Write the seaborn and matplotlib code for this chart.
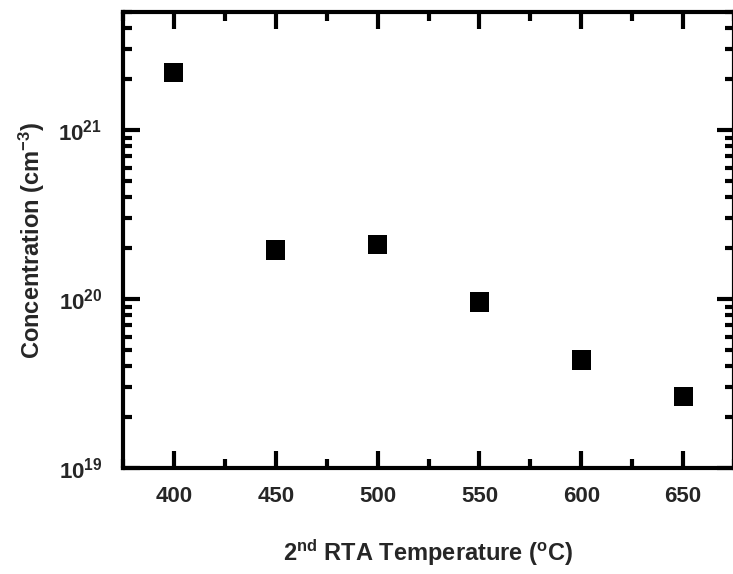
import matplotlib
matplotlib.use("Agg")
import math
import matplotlib.pyplot as plt
import matplotlib.ticker as mticker
import seaborn as sns
import pandas as pd

temperature = [400, 450, 500, 550, 600, 650]
concentration = [2.2e21, 1.95e20, 2.11e20, 9.6e19, 4.36e19, 2.65e19]

sns.set_style("ticks")
plt.rcParams['font.family'] = ['Liberation Sans', 'DejaVu Sans']
plt.rcParams['mathtext.fontset'] = 'custom'
plt.rcParams['mathtext.rm'] = 'Liberation Sans:bold'
plt.rcParams['mathtext.it'] = 'Liberation Sans:bold'
plt.rcParams['mathtext.bf'] = 'Liberation Sans:bold'

df = pd.DataFrame({"T": temperature, "C": concentration})

fig = plt.figure(figsize=(7.33, 5.74), dpi=100)
W, H = 733, 574
ax = fig.add_axes([123 / W, (H - 468) / H, (734 - 123) / W, (468 - 12) / H])

sns.scatterplot(data=df, x="T", y="C", marker="s", s=190, color="black",
                edgecolor="none", linewidth=0, ax=ax, legend=False)

ax.set_yscale("log")
ax.set_xlim(375, 675)
ax.set_ylim(1e19, 5e21)

ax.xaxis.set_major_locator(mticker.MultipleLocator(50))
ax.xaxis.set_minor_locator(mticker.MultipleLocator(25))
ax.yaxis.set_major_locator(mticker.LogLocator(base=10, numticks=10))
ax.yaxis.set_minor_locator(mticker.LogLocator(base=10, subs=range(2, 10), numticks=20))
ax.yaxis.set_minor_formatter(mticker.NullFormatter())

def yfmt(v, pos):
    e = int(round(math.log10(v)))
    return r"$\mathregular{10^{%d}}$" % e
ax.yaxis.set_major_formatter(mticker.FuncFormatter(yfmt))

for s in ax.spines.values():
    s.set_linewidth(3)
    s.set_color("black")

ax.tick_params(which="both", direction="in", top=True, right=True, width=3, color="black")
ax.tick_params(which="major", length=12)
ax.tick_params(which="minor", length=6.5)
ax.tick_params(axis="x", which="major", labelsize=16, pad=13)
ax.tick_params(axis="y", which="major", labelsize=16, pad=15)

for lab in ax.get_xticklabels() + ax.get_yticklabels():
    lab.set_fontweight("bold")

ax.set_xlabel(r"2$^{\mathregular{nd}}$ RTA Temperature ($^{\mathregular{o}}$C)",
              fontsize=17, fontweight="bold", labelpad=22)
ax.set_ylabel(r"Concentration (cm$^{\mathregular{-3}}$)",
              fontsize=17, fontweight="bold", labelpad=8)

fig.savefig("out.png", dpi=100)
